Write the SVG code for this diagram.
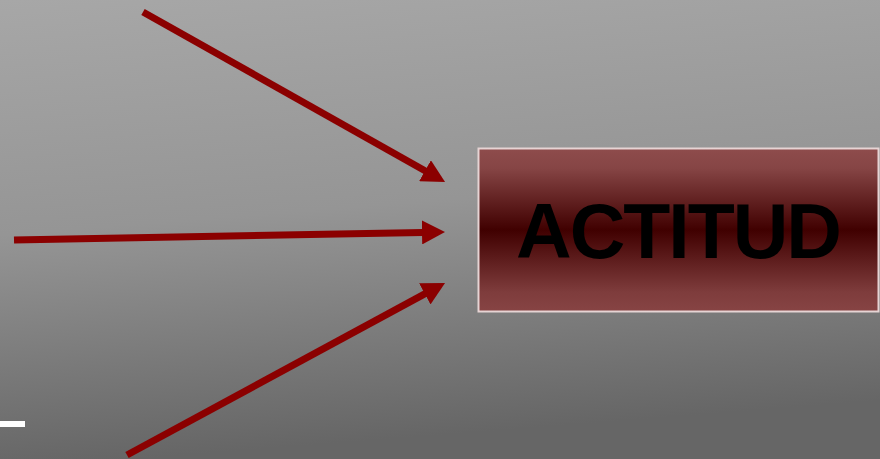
<svg xmlns="http://www.w3.org/2000/svg" width="880" height="459" viewBox="0 0 880 459">
<defs>
<linearGradient id="bg" x1="0" y1="0" x2="0.15" y2="1">
<stop offset="0" stop-color="#a7a7a7"/>
<stop offset="0.5" stop-color="#959595"/>
<stop offset="1" stop-color="#666666"/>
</linearGradient>
<linearGradient id="box" x1="0" y1="0" x2="0" y2="1">
<stop offset="0" stop-color="#8e4c4c"/>
<stop offset="0.12" stop-color="#864545"/>
<stop offset="0.5" stop-color="#400000"/>
<stop offset="0.88" stop-color="#7e3c3c"/>
<stop offset="1" stop-color="#874444"/>
</linearGradient>
<marker id="ah" markerUnits="userSpaceOnUse" markerWidth="23" markerHeight="24" viewBox="0 0 23 24" refX="1" refY="12" orient="auto">
<path d="M0,0 L23,12 L0,24 Z" fill="#8b0000"/>
</marker>
<style>
.conn{stroke:#8b0000;stroke-width:7;fill:none}
.lbl{font-family:"Liberation Sans",Arial,sans-serif;font-weight:bold;font-size:77px;letter-spacing:-2px;fill:#000}
</style>
</defs>
<rect width="880" height="459" fill="url(#bg)"/>
<rect x="0" y="421" width="25" height="6" fill="#ffffff"/>
<g id="connectors">
<line class="conn" x1="143" y1="12" x2="425.9" y2="171.2" marker-end="url(#ah)"/>
<line class="conn" x1="14" y1="240" x2="423" y2="232.4" marker-end="url(#ah)"/>
<line class="conn" x1="127" y1="455" x2="425.7" y2="293.4" marker-end="url(#ah)"/>
</g>
<g id="actitud">
<rect x="478.5" y="148.5" width="400" height="163" fill="url(#box)" stroke="#e6d4d4" stroke-width="2"/>
<text class="lbl" x="678" y="258" text-anchor="middle">ACTITUD</text>
</g>
</svg>
